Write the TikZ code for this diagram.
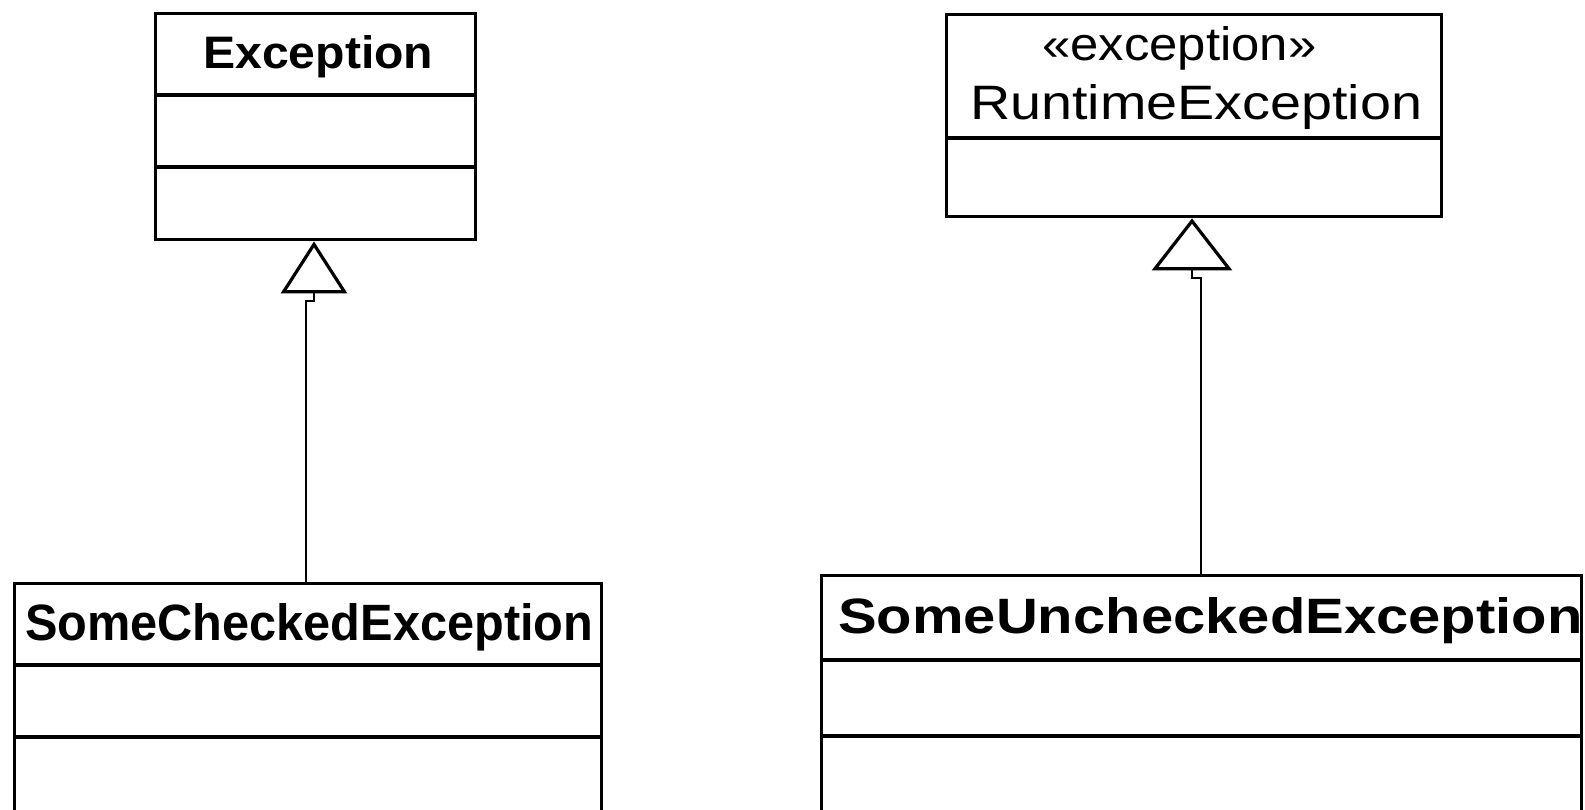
\documentclass[tikz,border=0pt]{standalone}
\usepackage{fontspec}
\setmainfont{Liberation Sans}
\usetikzlibrary{arrows.meta}
\begin{document}
\begin{tikzpicture}[x=1pt,y=-1pt,
  classbox/.style={draw, line width=3.4pt, inner sep=0pt, anchor=north west},
  divider/.style={line width=3.2pt},
  classname/.style={inner sep=0pt, anchor=base west},
  inherit/.style={line width=2pt, line join=miter,
    -{Triangle[open,length=#1,line width=3.2pt]}},
]
\useasboundingbox (0,0) rectangle (1585,809);
\clip (0,0) rectangle (1585,809);

% checked exception hierarchy
\node[classbox, minimum width=320pt, minimum height=226pt] (exc) at (154,12) {};
\draw[divider] (154,95) -- (474,95);
\draw[divider] (154,167) -- (474,167);
\node[classname] (excname) at (203,68)
  {\resizebox{230pt}{33pt}{\bfseries Exception}};

\node[classbox, minimum width=587pt, minimum height=260pt] (chk) at (13,582) {};
\draw[divider] (13,665) -- (600,665);
\draw[divider] (13,737) -- (600,737);
\node[classname] (chkname) at (25,640)
  {\resizebox{568pt}{37pt}{\bfseries SomeCheckedException}};

% unchecked exception hierarchy
\node[classbox, minimum width=495pt, minimum height=202pt] (rte) at (945,13) {};
\draw[divider] (945,138) -- (1440,138);
\node[classname] (rtestereo) at (1042,60)
  {\resizebox{274pt}{34pt}{«exception»}};
\node[classname] (rtename) at (970,119)
  {\resizebox{452pt}{35pt}{RuntimeException}};

\node[classbox, minimum width=760pt, minimum height=260pt] (unc) at (820,574) {};
\draw[divider] (820,660) -- (1580,660);
\draw[divider] (820,736) -- (1580,736);
\node[classname] (uncname) at (838,633)
  {\resizebox{744pt}{36pt}{\bfseries SomeUncheckedException}};

% generalization connectors
\coordinate (ja) at (306,301);
\coordinate (jb) at (314,301);
\draw[inherit={52pt, width=66pt}] (ja |- chk.north) -- (ja) -- (jb) -- (jb |- exc.south);

\coordinate (jc) at (1201,278);
\coordinate (jd) at (1192,278);
\draw[inherit={52pt, width=80pt}] (jc |- unc.north) -- (jc) -- (jd) -- (jd |- rte.south);
\end{tikzpicture}
\end{document}
